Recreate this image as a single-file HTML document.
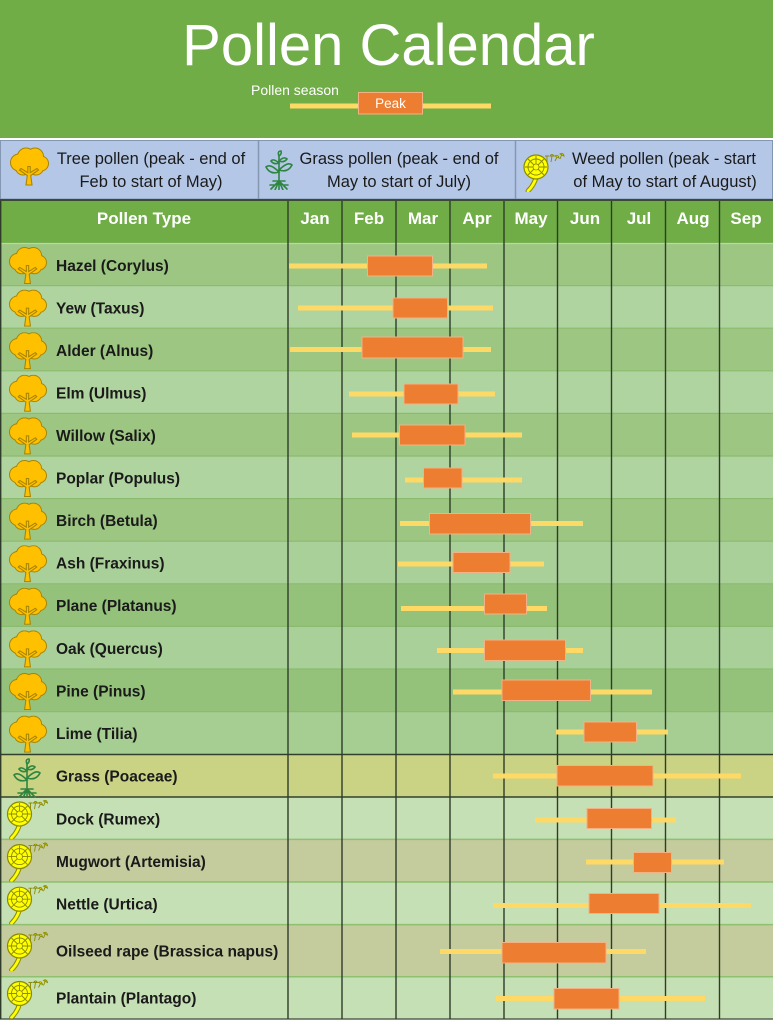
<!DOCTYPE html>
<html><head><meta charset="utf-8"><style>
html,body{margin:0;padding:0;background:#fff;}
svg{display:block;}
text{font-family:"Liberation Sans",sans-serif;}
</style></head><body>
<svg width="773" height="1023" viewBox="0 0 773 1023" xmlns="http://www.w3.org/2000/svg">
<defs>
<symbol id="tree" viewBox="0 0 40 38">
 <g fill="#ffc000" stroke="#a88400" stroke-width="2">
  <circle cx="10" cy="15" r="8"/><circle cx="17" cy="9" r="8"/><circle cx="26" cy="9" r="8"/>
  <circle cx="32" cy="16" r="7"/><circle cx="27" cy="20" r="7"/><circle cx="14" cy="20" r="7"/><circle cx="21" cy="15" r="9"/>
 </g>
 <g fill="#ffc000">
  <circle cx="10" cy="15" r="8"/><circle cx="17" cy="9" r="8"/><circle cx="26" cy="9" r="8"/>
  <circle cx="32" cy="16" r="7"/><circle cx="27" cy="20" r="7"/><circle cx="14" cy="20" r="7"/><circle cx="21" cy="15" r="9"/>
 </g>
 <path d="M17 37.5 L18.3 28 L10.5 22.5 L12 21 L18.8 25.2 L18.8 19 L21.2 19 L21.2 25.2 L28 21 L29.5 22.5 L21.7 28 L23 37.5 Z" fill="#ffc000" stroke="#a88400" stroke-width="1.1"/>
</symbol>
<symbol id="grass" viewBox="0 0 30 40">
 <g fill="none" stroke="#2e8540" stroke-width="1.6" stroke-linecap="round">
  <path d="M15 31 L15 5"/>
  <path d="M15 22 Q6 13 2 17 Q6 25 15 22 Z"/>
  <path d="M15 20 Q24 11 28 15 Q24 23 15 20 Z"/>
  <path d="M15 13 Q9 8 7 11 Q10 15 15 13 Z"/>
  <path d="M15 11 Q20 6 23 9 Q20 13 15 11 Z"/>
  <path d="M15 6 Q13 1 17 1 Q18 4 15 6 Z"/>
  <path d="M9 31 L21 31 M15 31 L7 39 M15 31 L11 40 M15 31 L15 40 M15 31 L19 40 M15 31 L23 39 M10 35 L6 35 M20 35 L24 35"/>
 </g>
</symbol>
<symbol id="weed" viewBox="0 0 42 40">
 <path d="M14 20 Q13 31 5 39" fill="none" stroke="#8a8a00" stroke-width="4.8" stroke-linecap="round"/>
 <path d="M14 20 Q13 31 5 39" fill="none" stroke="#ffff00" stroke-width="2.8" stroke-linecap="round"/>
 <circle cx="13" cy="15" r="12" fill="#ffff00" stroke="#8a8a00" stroke-width="1.2"/>
 <g stroke="#8a8a00" stroke-width="0.9" fill="none">
  <path d="M13 15 L13 4 M13 15 L21 7 M13 15 L24 15 M13 15 L21 23 M13 15 L5 23 M13 15 L2 15 M13 15 L5 7"/>
  <circle cx="13" cy="15" r="8"/>
 </g>
 <circle cx="13" cy="15" r="3" fill="#ffff00" stroke="#8a8a00" stroke-width="0.8"/>
 <g fill="#ffff00" stroke="#8a8a00" stroke-width="0.9">
  <path d="M24 4 L24 10 M22 4 L26 4"/>
  <path d="M29 4 L28 10 M27 4 Q29 1 31 4 Z"/>
  <path d="M34 5 L32 9 M32 4 Q35 2 36 6 Z"/>
  <path d="M39 2 L37 7 M37 2 Q40 0 41 4 Z"/>
 </g>
</symbol>
</defs>

<!-- Title area -->
<rect x="0" y="0" width="773" height="138" fill="#70ad47"/>
<text x="388.5" y="65" font-size="58" fill="#ffffff" text-anchor="middle">Pollen Calendar</text>
<text x="251" y="95" font-size="14" fill="#ffffff">Pollen season</text>
<rect x="290" y="103.5" width="201" height="5" fill="#ffd966"/>
<rect x="358.5" y="92.5" width="64" height="21.5" fill="#ed7d31" stroke="#f4b183" stroke-width="1"/>
<text x="390.5" y="108" font-size="13.5" fill="#ffffff" text-anchor="middle">Peak</text>

<!-- Legend -->
<rect x="0.5" y="140.5" width="772" height="58.5" fill="#b4c7e7" stroke="#8497b0" stroke-width="1"/>
<line x1="258.5" y1="140" x2="258.5" y2="199" stroke="#8497b0" stroke-width="1.5"/>
<line x1="515.5" y1="140" x2="515.5" y2="199" stroke="#8497b0" stroke-width="1.5"/>
<use href="#tree" x="9" y="147" width="40" height="39"/>
<use href="#grass" x="264" y="150" width="30" height="40"/>
<use href="#weed" x="523" y="152" width="42" height="40"/>
<g font-size="16.5" fill="#1a1a1a" text-anchor="middle">
 <text x="151" y="164">Tree pollen (peak - end of</text>
 <text x="151" y="187">Feb to start of May)</text>
 <text x="399" y="164">Grass pollen (peak - end of</text>
 <text x="399" y="187">May to start of July)</text>
 <text x="664" y="164">Weed pollen (peak - start</text>
 <text x="665" y="187">of May to start of August)</text>
</g>

<!-- Table header -->
<rect x="0" y="199" width="773" height="2" fill="#3b4a35"/>
<rect x="0" y="201" width="773" height="42" fill="#70ad47"/>
<g font-size="17" font-weight="bold" fill="#ffffff" text-anchor="middle">
 <text x="144" y="224">Pollen Type</text>
 <text x="315" y="224">Jan</text>
 <text x="369" y="224">Feb</text>
 <text x="423" y="224">Mar</text>
 <text x="477" y="224">Apr</text>
 <text x="531" y="224">May</text>
 <text x="585" y="224">Jun</text>
 <text x="639" y="224">Jul</text>
 <text x="693" y="224">Aug</text>
 <text x="746" y="224">Sep</text>
</g>

<!-- Row backgrounds -->
<rect x="0" y="243" width="773" height="42.6" fill="#9cc682"/>
<rect x="0" y="285.6" width="773" height="42.6" fill="#b0d4a0"/>
<rect x="0" y="328.2" width="773" height="42.6" fill="#9cc682"/>
<rect x="0" y="370.8" width="773" height="42.6" fill="#b0d4a0"/>
<rect x="0" y="413.4" width="773" height="42.6" fill="#9cc682"/>
<rect x="0" y="456" width="773" height="42.6" fill="#b0d4a0"/>
<rect x="0" y="498.6" width="773" height="42.6" fill="#9cc682"/>
<rect x="0" y="541.2" width="773" height="42.6" fill="#aad09a"/>
<rect x="0" y="583.8" width="773" height="42.6" fill="#94c27a"/>
<rect x="0" y="626.4" width="773" height="42.6" fill="#aad09a"/>
<rect x="0" y="669" width="773" height="42.6" fill="#94c27a"/>
<rect x="0" y="711.6" width="773" height="42.6" fill="#a6ce92"/>
<rect x="0" y="754.2" width="773" height="42.6" fill="#cad383"/>
<rect x="0" y="796.8" width="773" height="42.6" fill="#c6e0b5"/>
<rect x="0" y="839.4" width="773" height="42.6" fill="#c4cb9d"/>
<rect x="0" y="882" width="773" height="42.6" fill="#c6e0b5"/>
<rect x="0" y="924.6" width="773" height="52.1" fill="#c4cb9d"/>
<rect x="0" y="976.7" width="773" height="42.3" fill="#c6e0b5"/>

<!-- Row separators -->
<g stroke="#8bbb6e" stroke-width="1.2">
 <line x1="0" y1="243.5" x2="773" y2="243.5" stroke="#b8d8a8"/>
 <line x1="0" y1="285.6" x2="773" y2="285.6"/>
 <line x1="0" y1="328.2" x2="773" y2="328.2"/>
 <line x1="0" y1="370.8" x2="773" y2="370.8"/>
 <line x1="0" y1="413.4" x2="773" y2="413.4"/>
 <line x1="0" y1="456" x2="773" y2="456"/>
 <line x1="0" y1="498.6" x2="773" y2="498.6"/>
 <line x1="0" y1="541.2" x2="773" y2="541.2"/>
 <line x1="0" y1="583.8" x2="773" y2="583.8"/>
 <line x1="0" y1="626.4" x2="773" y2="626.4"/>
 <line x1="0" y1="669" x2="773" y2="669"/>
 <line x1="0" y1="711.6" x2="773" y2="711.6"/>
 <line x1="0" y1="839.4" x2="773" y2="839.4" stroke="#8dc06f" stroke-width="1.5"/>
 <line x1="0" y1="882" x2="773" y2="882" stroke="#8dc06f" stroke-width="1.5"/>
 <line x1="0" y1="924.6" x2="773" y2="924.6" stroke="#8dc06f" stroke-width="1.5"/>
 <line x1="0" y1="976.7" x2="773" y2="976.7" stroke="#8dc06f" stroke-width="1.5"/>
</g>
<line x1="0" y1="754.5" x2="773" y2="754.5" stroke="#333f2d" stroke-width="1.5"/>
<line x1="0" y1="797" x2="773" y2="797" stroke="#333f2d" stroke-width="1.5"/>
<line x1="0" y1="1019" x2="773" y2="1019" stroke="#55604f" stroke-width="1.5"/>

<!-- Vertical grid -->
<g stroke="#2f3c2a" stroke-width="1.4">
 <line x1="0.7" y1="201" x2="0.7" y2="1019"/>
 <line x1="288" y1="201" x2="288" y2="1019"/>
 <line x1="342" y1="201" x2="342" y2="1019"/>
 <line x1="396" y1="201" x2="396" y2="1019"/>
 <line x1="450" y1="201" x2="450" y2="1019"/>
 <line x1="504" y1="201" x2="504" y2="1019"/>
 <line x1="557.5" y1="201" x2="557.5" y2="1019"/>
 <line x1="611.5" y1="201" x2="611.5" y2="1019"/>
 <line x1="665.5" y1="201" x2="665.5" y2="1019"/>
 <line x1="719.5" y1="201" x2="719.5" y2="1019"/>
</g>
<rect x="0" y="1020" width="773" height="3" fill="#ffffff"/>

<!-- Icons -->
<use href="#tree" x="8" y="247" width="39" height="37"/>
<use href="#tree" x="8" y="289.6" width="39" height="37"/>
<use href="#tree" x="8" y="332.2" width="39" height="37"/>
<use href="#tree" x="8" y="374.8" width="39" height="37"/>
<use href="#tree" x="8" y="417.4" width="39" height="37"/>
<use href="#tree" x="8" y="460" width="39" height="37"/>
<use href="#tree" x="8" y="502.6" width="39" height="37"/>
<use href="#tree" x="8" y="545.2" width="39" height="37"/>
<use href="#tree" x="8" y="587.8" width="39" height="37"/>
<use href="#tree" x="8" y="630.4" width="39" height="37"/>
<use href="#tree" x="8" y="673" width="39" height="37"/>
<use href="#tree" x="8" y="715.6" width="39" height="37"/>
<use href="#grass" x="12" y="758" width="30" height="40"/>
<use href="#weed" x="6" y="799" width="43" height="40"/>
<use href="#weed" x="6" y="841.6" width="43" height="40"/>
<use href="#weed" x="6" y="884.2" width="43" height="40"/>
<use href="#weed" x="6" y="931" width="43" height="40"/>
<use href="#weed" x="6" y="978.5" width="43" height="40"/>

<!-- Labels -->
<g font-size="15.5" font-weight="bold" fill="#1a1a1a">
 <text x="56" y="271">Hazel (Corylus)</text>
 <text x="56" y="313.5">Yew (Taxus)</text>
 <text x="56" y="356">Alder (Alnus)</text>
 <text x="56" y="398.5">Elm (Ulmus)</text>
 <text x="56" y="441">Willow (Salix)</text>
 <text x="56" y="483.5">Poplar (Populus)</text>
 <text x="56" y="526">Birch (Betula)</text>
 <text x="56" y="568.5">Ash (Fraxinus)</text>
 <text x="56" y="611">Plane (Platanus)</text>
 <text x="56" y="654">Oak (Quercus)</text>
 <text x="56" y="696.5">Pine (Pinus)</text>
 <text x="56" y="739">Lime (Tilia)</text>
 <text x="56" y="781.5">Grass (Poaceae)</text>
 <text x="56" y="824.5">Dock (Rumex)</text>
 <text x="56" y="867">Mugwort (Artemisia)</text>
 <text x="56" y="909.5">Nettle (Urtica)</text>
 <text x="56" y="956.5">Oilseed rape (Brassica napus)</text>
 <text x="56" y="1003.5">Plantain (Plantago)</text>
</g>

<!-- Season lines -->
<g fill="#ffd966">
 <rect x="289" y="263.5" width="198" height="5"/>
 <rect x="298" y="305.5" width="195" height="5"/>
 <rect x="290" y="347" width="201" height="5"/>
 <rect x="349" y="391.5" width="146" height="5"/>
 <rect x="352" y="432.5" width="170" height="5"/>
 <rect x="405" y="477.5" width="117" height="5"/>
 <rect x="400" y="521" width="183" height="5"/>
 <rect x="398" y="561.5" width="146" height="5"/>
 <rect x="401" y="606" width="146" height="5"/>
 <rect x="437" y="648" width="146" height="5"/>
 <rect x="453" y="689.5" width="199" height="5"/>
 <rect x="556" y="729.5" width="112" height="5"/>
 <rect x="493" y="773.5" width="248" height="5"/>
 <rect x="535" y="817.5" width="141" height="5"/>
 <rect x="586" y="859.5" width="138" height="5"/>
 <rect x="493" y="903" width="258" height="5"/>
 <rect x="440" y="949" width="206" height="5"/>
 <rect x="496" y="996" width="209" height="5"/>
</g>
<!-- Peak boxes -->
<g fill="#ed7d31" stroke="#f4b183" stroke-width="1">
 <rect x="367.5" y="256" width="65" height="20"/>
 <rect x="393" y="298" width="54.5" height="20"/>
 <rect x="362" y="337" width="101" height="21"/>
 <rect x="404" y="384" width="54" height="20"/>
 <rect x="399.5" y="425" width="65.5" height="20"/>
 <rect x="423.5" y="468" width="38.5" height="20"/>
 <rect x="429.5" y="513.5" width="101" height="20.5"/>
 <rect x="453" y="552.5" width="57" height="20"/>
 <rect x="484.5" y="594" width="42" height="20"/>
 <rect x="484.5" y="640" width="81" height="20.5"/>
 <rect x="502" y="680" width="88.5" height="20.5"/>
 <rect x="584" y="722" width="52.5" height="20"/>
 <rect x="557" y="765.5" width="96" height="20.5"/>
 <rect x="587" y="808.5" width="64.5" height="20"/>
 <rect x="633.5" y="852.5" width="38" height="20"/>
 <rect x="589" y="893.5" width="70" height="20"/>
 <rect x="502" y="942.5" width="104" height="20.5"/>
 <rect x="554" y="988.5" width="65" height="20.5"/>
</g>
</svg>
</body></html>
